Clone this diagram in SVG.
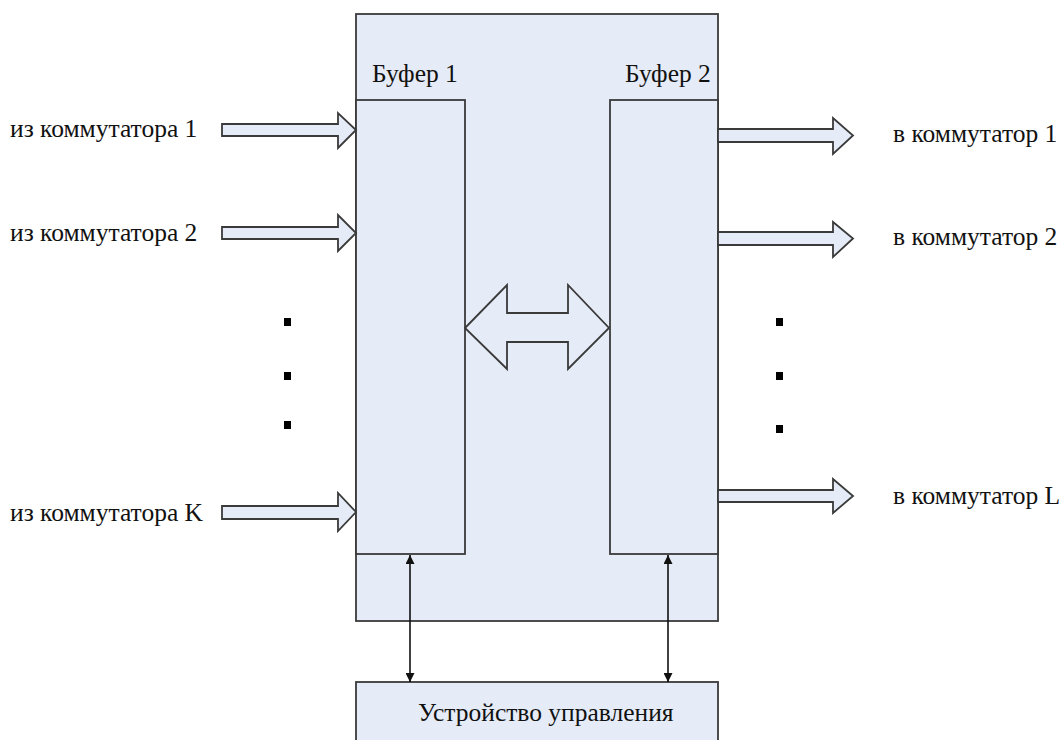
<svg xmlns="http://www.w3.org/2000/svg" width="1064" height="740" viewBox="0 0 1064 740">
<defs>
<style>
.box{fill:#e6ecf7;stroke:#3a3a3a;stroke-width:1.8}
.arr{fill:#e6ecf7;stroke:#3a3a3a;stroke-width:1.8;stroke-linejoin:miter}
.t{font-family:"Liberation Serif","Times New Roman",serif;font-size:25.5px;fill:#111}
.ln{stroke:#111;stroke-width:1.6;fill:none}
.dot{fill:#000}
</style>
<marker id="ah" viewBox="0 0 10 10" refX="10" refY="5" markerWidth="9" markerHeight="9" markerUnits="userSpaceOnUse" orient="auto-start-reverse">
<path d="M0,0 L10,5 L0,10 Z" fill="#111"/>
</marker>
</defs>
<rect width="1064" height="740" fill="#fff"/>
<g id="switch">
<rect class="box" x="356" y="14" width="362" height="607"/>
</g>
<g id="buffer1">
<rect class="box" x="356" y="100" width="109" height="454"/>
<text class="t" x="372" y="82">Буфер 1</text>
</g>
<g id="buffer2">
<rect class="box" x="610" y="100" width="108" height="454"/>
<text class="t" x="625" y="82">Буфер 2</text>
</g>
<g id="control">
<rect class="box" x="356" y="682" width="362" height="70"/>
<text class="t" x="418" y="721">Устройство управления</text>
</g>
<g id="inputs">
<text class="t" x="10" y="137">из коммутатора 1</text>
<text class="t" x="10" y="241">из коммутатора 2</text>
<text class="t" x="10" y="521">из коммутатора K</text>
<rect class="dot" x="284" y="318" width="7" height="8"/>
<rect class="dot" x="284" y="372" width="7" height="8"/>
<rect class="dot" x="284" y="421" width="7" height="8"/>
</g>
<g id="outputs">
<text class="t" x="893" y="142">в коммутатор 1</text>
<text class="t" x="893" y="245">в коммутатор 2</text>
<text class="t" x="893" y="504">в коммутатор L</text>
<rect class="dot" x="776" y="318" width="7" height="8"/>
<rect class="dot" x="776" y="372" width="7" height="8"/>
<rect class="dot" x="776" y="425" width="7" height="8"/>
</g>
<g id="connectors">
<polygon class="arr" points="222,124 338,124 338,113 356,130 338,148 338,136 222,136"/>
<polygon class="arr" points="222,227 338,227 338,215 356,233 338,251 338,239 222,239"/>
<polygon class="arr" points="222,506 338,506 338,493 356,512 338,531 338,519 222,519"/>
<polygon class="arr" points="718,129 833,129 833,118 853,135.5 833,154 833,142 718,142"/>
<polygon class="arr" points="718,232 833,232 833,222 853,238.5 833,257 833,245 718,245"/>
<polygon class="arr" points="718,490 833,490 833,479 853,496 833,513 833,502 718,502"/>
<polygon class="arr" points="465,328 507,285 507,313 568,313 568,285 609,328 568,369 568,342 507,342 507,369"/>
<line class="ln" x1="410" y1="555" x2="410" y2="682" marker-start="url(#ah)" marker-end="url(#ah)"/>
<line class="ln" x1="668" y1="555" x2="668" y2="682" marker-start="url(#ah)" marker-end="url(#ah)"/>
</g>
</svg>
